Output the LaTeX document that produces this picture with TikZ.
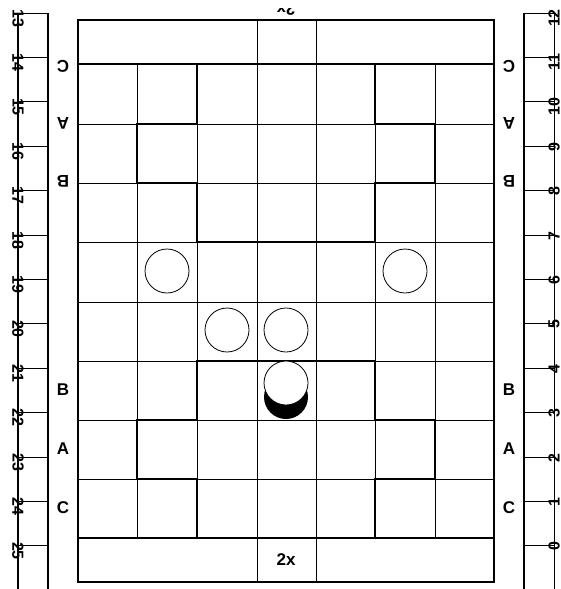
\documentclass[tikz,border=0pt]{standalone}
\usepackage{fontspec}
\setmainfont{Liberation Sans}
\begin{document}
\begin{tikzpicture}[x=1pt,y=-1pt,
  thickln/.style={line width=2pt},
  midln/.style={line width=1.3pt},
  thinln/.style={line width=0.8pt},
  lbl/.style={font=\fontsize{17}{17}\selectfont\bfseries, inner sep=0pt},
  num/.style={font=\fontsize{16}{16}\selectfont\bfseries, inner sep=0pt},
  piece/.style={circle, draw, fill=white, line width=0.8pt, minimum size=44pt, inner sep=0pt},
  shade/.style={circle, fill=black, minimum size=44pt, inner sep=0pt}]
\useasboundingbox (0,0) rectangle (560,589);
\clip (0,0) rectangle (560,589);
% board grid
\foreach \x in {137,197,257,316,375,435} \draw[thinln] (\x,64) -- (\x,538);
\foreach \y in {124,183,242,302,361,420,479} \draw[thinln] (78,\y) -- (494,\y);
\foreach \x in {257,316} {\draw[thinln] (\x,20) -- (\x,64); \draw[thinln] (\x,538) -- (\x,582);}
\draw[thickln] (78,20) rectangle (494,582);
\draw[thickln] (78,64) -- (494,64);
\draw[thickln] (78,538) -- (494,538);
% cross shapes
\draw[thickln] (197,64) -- (375,64) -- (375,124) -- (435,124) -- (435,183) -- (375,183) -- (375,242) -- (197,242) -- (197,183) -- (137,183) -- (137,124) -- (197,124) -- cycle;
\draw[thickln] (197,361) -- (375,361) -- (375,420) -- (435,420) -- (435,479) -- (375,479) -- (375,538) -- (197,538) -- (197,479) -- (137,479) -- (137,420) -- (197,420) -- cycle;
% rulers
\draw[thickln] (18,13) -- (18,589);
\draw[midln] (48,13) -- (48,589);
\draw[midln] (524,13) -- (524,589);
\draw[thinln] (554,13) -- (554,589);
\foreach \k in {0,...,12} {
  \draw[thinln] (18,{13+44.4*\k}) -- (48,{13+44.4*\k});
  \draw[thinln] (524,{13+44.4*\k}) -- (554,{13+44.4*\k});
}
\foreach \k [evaluate=\k as \n using int(13+\k), evaluate=\k as \m using int(12-\k)] in {0,...,12} {
  \node[num, rotate=-90, anchor=west] (ln\k) at (18,{13+44.4*\k-4}) {\n};
  \node[num, rotate=90, anchor=east] (rn\k) at (554,{13+44.4*\k-4}) {\m};
}
% row labels
\node[lbl, rotate=180] (lc1) at (63,66) {C};
\node[lbl, rotate=180] (la1) at (63,123) {A};
\node[lbl, rotate=180] (lb1) at (63,181) {B};
\node[lbl, rotate=180] (rc1) at (509,66) {C};
\node[lbl, rotate=180] (ra1) at (509,123) {A};
\node[lbl, rotate=180] (rb1) at (509,181) {B};
\node[lbl] (lb2) at (63,390) {B};
\node[lbl] (la2) at (63,449) {A};
\node[lbl] (lc2) at (63,508) {C};
\node[lbl] (rb2) at (509,390) {B};
\node[lbl] (ra2) at (509,449) {A};
\node[lbl] (rc2) at (509,508) {C};
% 2x labels
\begin{scope}
\clip (0,8) rectangle (560,40);
\node[lbl, rotate=180] (toptxt) at (286,9) {2x};
\end{scope}
\node[lbl] (bottxt) at (286,560) {2x};
% pieces
\node[piece] (p1) at (167,271) {};
\node[piece] (p2) at (405,271) {};
\node[piece] (p3) at (227,330) {};
\node[piece] (p4) at (286,330) {};
\node[shade] (s5) at (286,397) {};
\node[piece] (p5) at (286,383) {};
\end{tikzpicture}
\end{document}
